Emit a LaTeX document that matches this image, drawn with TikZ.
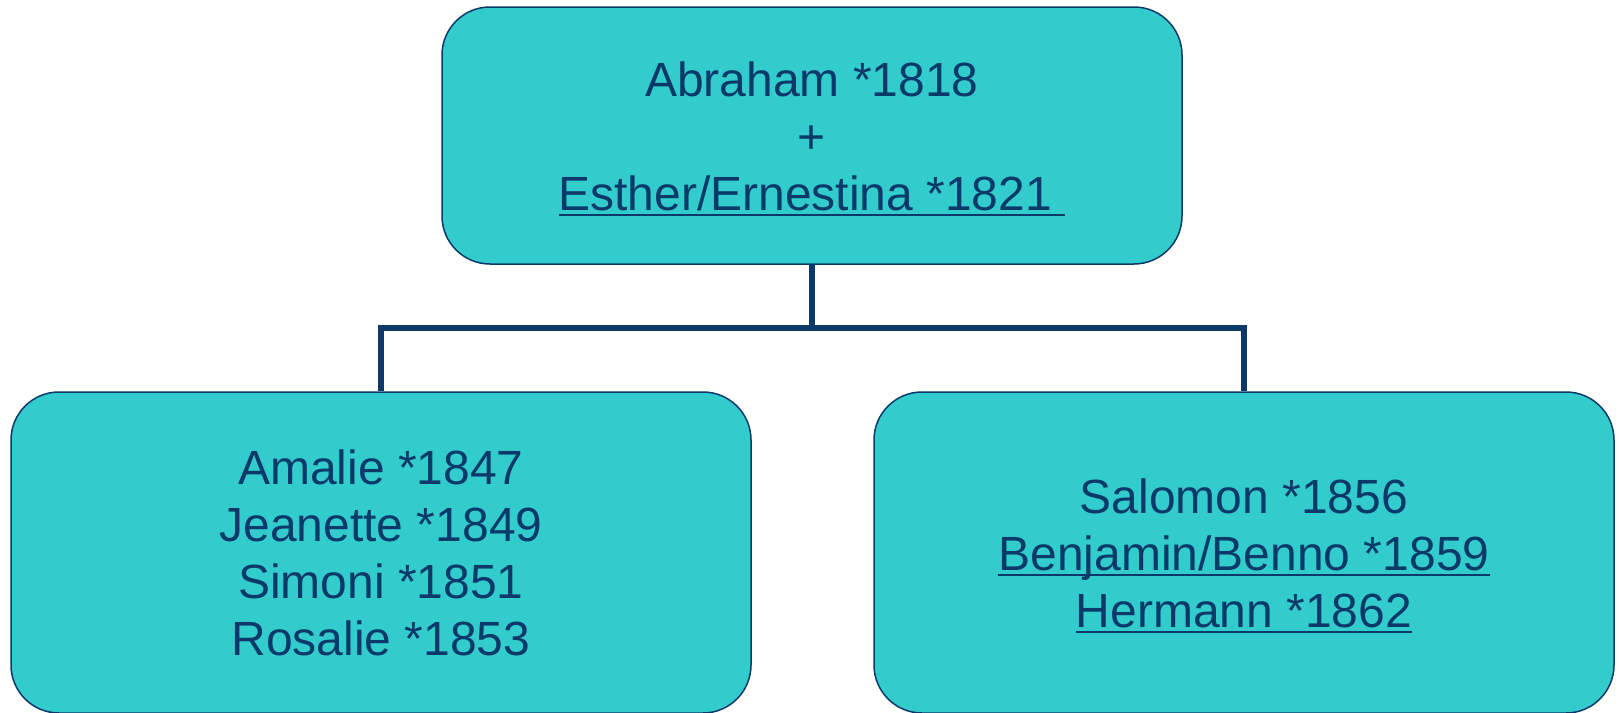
\documentclass[tikz,border=0pt]{standalone}
\usepackage{fontspec}
\setmainfont{Liberation Sans}
\definecolor{boxfill}{HTML}{33CCCC}
\definecolor{ink}{HTML}{0B3A6A}
% underlined text: the rule spans the whole box, trailing space included
\newsavebox\ulbox
\newcommand\ulText[1]{\sbox\ulbox{#1}\rlap{\rule[-5pt]{\wd\ulbox}{2pt}}\usebox\ulbox}
% taller first line, to set a text block a little lower in its box
\newcommand\tallStrut{\rule{0pt}{41pt}}
\begin{document}
\begin{tikzpicture}[x=1pt,y=-1pt,
  famBox/.style={draw=ink, line width=1.5pt, fill=boxfill, rounded corners=48pt,
    inner sep=0pt, minimum width=740pt, text=ink, align=center,
    font=\fontsize{48}{57}\selectfont},
  link/.style={draw=ink, line width=5.5pt}]
\useasboundingbox (0,0) rectangle (1619,712);

% parents
\node[famBox, minimum height=257pt] (parents) at (812,135.5)
  {\tallStrut Abraham *1818\\+\\\ulText{Esther/Ernestina *1821\ }};

% children
\node[famBox, minimum height=321pt] (daughters) at (381,552.5)
  {Amalie *1847\\Jeanette *1849\\Simoni *1851\\Rosalie *1853};
\node[famBox, minimum height=321pt] (sons) at (1244,552.5)
  {\tallStrut Salomon *1856\\\ulText{Benjamin/Benno *1859}\\\ulText{Hermann *1862}};

% family tree connector
\coordinate (fork) at (812,328);
\draw[link] (parents.south) -- (fork);
\draw[link] (daughters.north) |- (fork) -| (sons.north);
\end{tikzpicture}
\end{document}
